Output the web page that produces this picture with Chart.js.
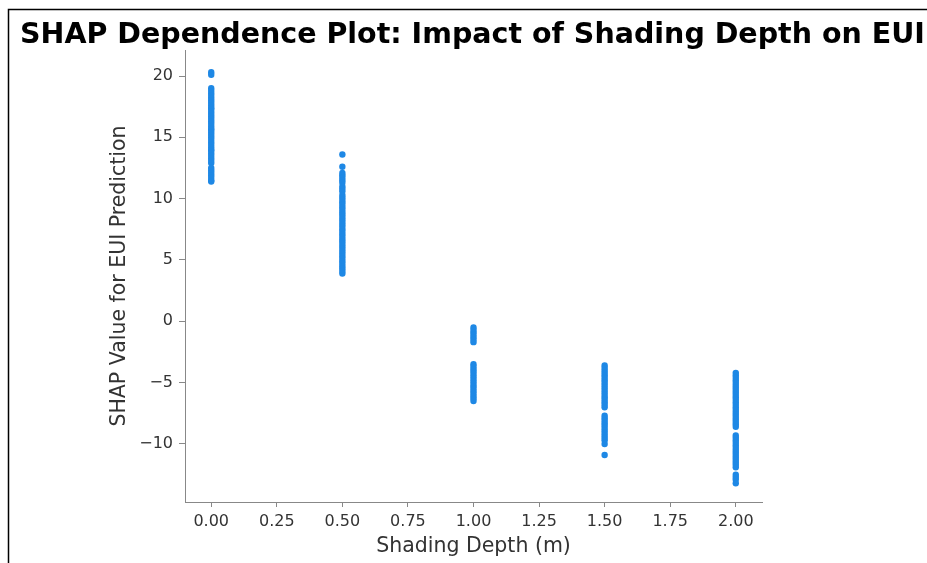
<!DOCTYPE html>
<html>
<head>
<meta charset="utf-8">
<script src="https://cdn.jsdelivr.net/npm/chart.js@4"></script>
<style>
html,body{margin:0;padding:0;background:#fff;}
#wrap{width:927px;height:563px;position:relative;}
</style>
</head>
<body>
<div id="wrap"><canvas id="c" width="927" height="563"></canvas></div>
<script>
const chartTitle = "SHAP Dependence Plot: Impact of Shading Depth on EUI";
const xAxisLabel = "Shading Depth (m)";
const yAxisLabel = "SHAP Value for EUI Prediction";
const shadingDepths = [0, 0.5, 1.0, 1.5, 2.0];
const xTickValues = [0, 0.25, 0.5, 0.75, 1.0, 1.25, 1.5, 1.75, 2.0];
const yTickValues = [-10, -5, 0, 5, 10, 15, 20];

const shapAt0 = [20.3, 20.1, 19.0, 18.8, 18.6, 18.4, 18.2, 18.0, 17.8, 17.6, 17.4, 17.3, 17.1, 16.9, 16.7, 16.5, 16.3, 16.1, 15.9, 15.7, 15.6, 15.4, 15.2, 15.0, 14.8, 14.6, 14.4, 14.2, 14.0, 13.9, 13.7, 13.5, 13.3, 13.1, 12.9, 12.5, 12.3, 12.1, 11.9, 11.7, 11.5, 11.4];
const shapAt05 = [13.6, 12.6, 12.1, 11.9, 11.7, 11.5, 11.3, 11.0, 10.8, 10.6, 10.3, 10.1, 9.9, 9.7, 9.5, 9.3, 9.1, 8.9, 8.7, 8.5, 8.3, 8.1, 7.9, 7.7, 7.5, 7.3, 7.1, 6.9, 6.7, 6.5, 6.3, 6.1, 5.9, 5.7, 5.5, 5.3, 5.1, 4.9, 4.7, 4.5, 4.3, 4.1, 3.9];
const shapAt10 = [-0.5, -0.7, -0.9, -1.1, -1.3, -1.5, -1.7, -3.5, -3.7, -3.9, -4.1, -4.3, -4.5, -4.7, -4.9, -5.1, -5.3, -5.5, -5.7, -5.9, -6.1, -6.3, -6.5];
const shapAt15 = [-3.6, -3.8, -4.0, -4.2, -4.4, -4.6, -4.8, -5.0, -5.2, -5.4, -5.6, -5.8, -6.0, -6.2, -6.4, -6.6, -6.8, -7.0, -7.7, -7.9, -8.1, -8.3, -8.5, -8.7, -8.9, -9.1, -9.3, -9.5, -9.7, -10.0, -10.9];
const shapAt20 = [-4.2, -4.4, -4.6, -4.8, -5.0, -5.2, -5.4, -5.6, -5.8, -6.0, -6.2, -6.4, -6.6, -6.8, -7.0, -7.2, -7.4, -7.6, -7.8, -8.0, -8.2, -8.4, -8.6, -9.3, -9.5, -9.7, -9.9, -10.1, -10.3, -10.5, -10.7, -10.9, -11.1, -11.3, -11.5, -11.7, -11.9, -12.5, -12.7, -12.9, -13.2];

const shapColumns = [shapAt0, shapAt05, shapAt10, shapAt15, shapAt20];
const points = [];
shadingDepths.forEach((d, i) => shapColumns[i].forEach(v => points.push({x: d, y: v})));

const fmtNum = (v, dec) => {
  const s = Math.abs(v).toFixed(dec);
  return (v < 0 ? "\u2212" : "") + s;
};

const framePlugin = {
  id: 'frameAndTitle',
  afterDraw(chart) {
    const ctx = chart.ctx;
    ctx.save();
    ctx.strokeStyle = '#000';
    ctx.lineWidth = 1.5;
    ctx.beginPath();
    ctx.moveTo(8.5, 563);
    ctx.lineTo(8.5, 9.5);
    ctx.lineTo(927, 9.5);
    ctx.stroke();
    ctx.fillStyle = '#000';
    ctx.font = 'bold 28.5px "DejaVu Sans"';
    ctx.textAlign = 'left';
    ctx.textBaseline = 'alphabetic';
    ctx.fillText(chartTitle, 20, 43);
    ctx.restore();
  }
};

new Chart(document.getElementById('c'), {
  type: 'scatter',
  data: {
    datasets: [{
      data: points,
      backgroundColor: '#1E88E5',
      borderWidth: 0,
      pointRadius: 3.2,
      pointHoverRadius: 3.2
    }]
  },
  options: {
    responsive: false,
    animation: false,
    events: [],
    layout: { padding: { left: 103, top: 50, right: 165, bottom: 0 } },
    plugins: { legend: { display: false }, tooltip: { enabled: false } },
    scales: {
      x: {
        type: 'linear',
        min: -0.1, max: 2.1,
        afterBuildTicks: s => { s.ticks = xTickValues.map(v => ({value: v})); },
        afterFit: s => { s.height = 61; },
        grid: { drawOnChartArea: false, drawTicks: true, tickLength: 5, color: '#888' },
        border: { display: true, color: '#888', width: 1 },
        ticks: { color: '#333', padding: 5, font: { family: 'DejaVu Sans', size: 16 }, callback: v => fmtNum(v, 2), maxRotation: 0, autoSkip: false },
        title: { display: true, text: xAxisLabel, color: '#333', font: { family: 'DejaVu Sans', size: 20.5 }, padding: { top: 4, bottom: 4 } }
      },
      y: {
        type: 'linear',
        min: -14.73, max: 22.12,
        afterBuildTicks: s => { s.ticks = yTickValues.map(v => ({value: v})); },
        afterFit: s => { s.width = 82; },
        grid: { drawOnChartArea: false, drawTicks: true, tickLength: 6, color: '#888' },
        border: { display: true, color: '#888', width: 1 },
        ticks: { color: '#333', padding: 6, font: { family: 'DejaVu Sans', size: 16 }, callback: v => fmtNum(v, 0) },
        title: { display: true, text: yAxisLabel, color: '#333', font: { family: 'DejaVu Sans', size: 20.5 }, padding: { top: 4, bottom: 4 } }
      }
    }
  },
  plugins: [framePlugin]
});
</script>
</body>
</html>
